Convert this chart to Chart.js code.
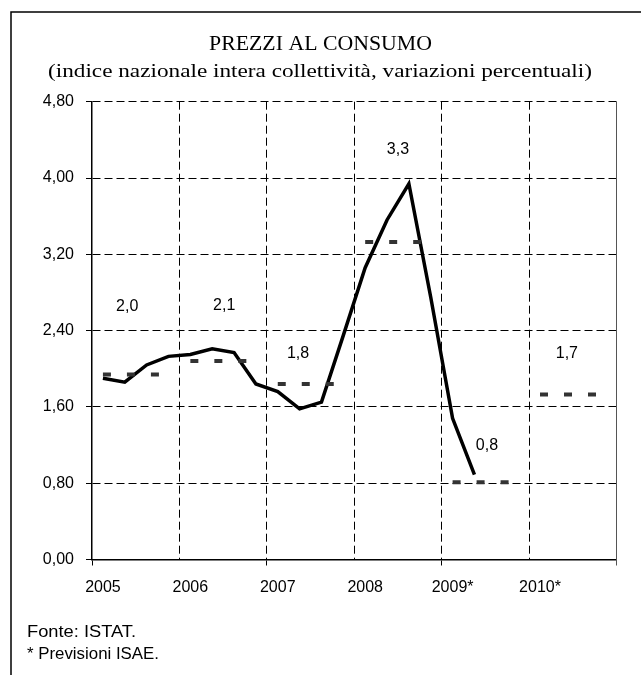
<!DOCTYPE html>
<html>
<head>
<meta charset="utf-8">
<script src="https://cdn.jsdelivr.net/npm/chart.js@4.4.1/dist/chart.umd.min.js"></script>
<style>
  html, body { margin: 0; padding: 0; background: #fff; }
</style>
</head>
<body>
<canvas id="grafico" width="641" height="675"></canvas>
<script>
// anni e trimestri (asse categorie)
const anni = ['2005', '2006', '2007', '2008', '2009*', '2010*'];
const trimestri = ['I', 'II', 'III', 'IV'];

// variazioni tendenziali trimestrali, dato ISTAT fino al II trim. 2009
const variazioniTrim = [1.90, 1.86, 2.04, 2.13, 2.15, 2.21, 2.17, 1.84, 1.76, 1.58, 1.65, 2.35,
                        3.06, 3.56, 3.94, 2.75, 1.48, 0.89];

// media annua (2009 e 2010 previsioni ISAE)
const mediaAnnua = [1.94, 2.08, 1.84, 3.33, 0.81, 1.73];
const etichetteMedia = ['2,0', '2,1', '1,8', '3,3', '0,8', '1,7'];

// tick asse y
const tickY = [0, 0.8, 1.6, 2.4, 3.2, 4.0, 4.8];

const categorie = anni.flatMap(a => trimestri.map(t => a + ' ' + t));

// una serie tratteggiata per ogni anno, cosi i segmenti restano staccati
const serieAnnue = mediaAnnua.map((v, k) => ({
    label: 'media ' + anni[k],
    data: categorie.map((_, i) => Math.floor(i / 4) === k ? v : null),
    borderColor: '#333333',
    borderWidth: 4,
    borderDash: [8, 16],
    borderCapStyle: 'butt',
    pointRadius: 0,
    fill: false,
    order: 0
}));

const serieTrim = {
    label: 'trimestrale',
    data: categorie.map((_, i) => i < variazioniTrim.length ? variazioniTrim[i] : null),
    borderColor: '#000000',
    borderWidth: 3.5,
    borderJoinStyle: 'miter',
    pointRadius: 0,
    tension: 0,
    fill: false,
    order: 1
};

// testo allargato in orizzontale fino alla larghezza voluta
function scritta(ctx, testo, x, y, font, larghezza, allinea) {
    ctx.save();
    ctx.font = font;
    const w = ctx.measureText(testo).width;
    const k = larghezza / w;
    const x0 = allinea === 'left' ? x : x - larghezza / 2;
    ctx.translate(x0, y);
    ctx.scale(k, 1);
    ctx.textAlign = 'left';
    ctx.fillText(testo, 0, 0);
    ctx.restore();
}

// scritte, cornice ed etichette delle medie
const decorazioni = {
    id: 'decorazioni',
    afterDatasetsDraw(chart, args, opts) {
        const ctx = chart.ctx;
        const xs = chart.scales.x, ys = chart.scales.y;
        ctx.save();
        ctx.fillStyle = '#000';
        ctx.font = '16px "Liberation Sans", Arial, sans-serif';
        ctx.textAlign = 'center';
        ctx.textBaseline = 'middle';
        opts.posizioni.forEach((p, k) => {
            ctx.fillText(etichetteMedia[k], xs.getPixelForValue(p[0]), ys.getPixelForValue(p[1]));
        });
        ctx.restore();
    },
    afterDraw(chart) {
        const ctx = chart.ctx;
        const a = chart.chartArea;
        ctx.save();
        // bordo destro dell'area
        ctx.strokeStyle = '#555';
        ctx.lineWidth = 1;
        ctx.beginPath();
        ctx.moveTo(a.right, a.top);
        ctx.lineTo(a.right, a.bottom + 6);
        ctx.stroke();

        // cornice
        ctx.strokeStyle = '#000';
        ctx.lineWidth = 1.5;
        ctx.beginPath();
        ctx.moveTo(11, 675);
        ctx.lineTo(11, 12);
        ctx.lineTo(641, 12);
        ctx.stroke();

        ctx.fillStyle = '#000';
        ctx.textBaseline = 'alphabetic';
        const serif = '"Liberation Serif", "Times New Roman", serif';
        const sans = '"Liberation Sans", Arial, sans-serif';
        scritta(ctx, 'PREZZI AL CONSUMO', 320.5, 50, '22px ' + serif, 223, 'center');
        scritta(ctx, '(indice nazionale intera collettività, variazioni percentuali)', 320, 77, '19px ' + serif, 544, 'center');
        scritta(ctx, 'Fonte: ISTAT.', 27, 637, '16px ' + sans, 109, 'left');
        scritta(ctx, '* Previsioni ISAE.', 27, 659, '16px ' + sans, 132, 'left');
        ctx.restore();
    }
};

new Chart(document.getElementById('grafico'), {
    type: 'line',
    data: {
        labels: categorie,
        datasets: [...serieAnnue, serieTrim]
    },
    options: {
        responsive: false,
        animation: false,
        layout: { padding: { top: 101.7, right: 24.5, bottom: 0, left: 0 } },
        plugins: {
            legend: { display: false },
            tooltip: { enabled: false },
            decorazioni: {
                posizioni: [[1.11, 2.65], [5.55, 2.66], [8.93, 2.16], [13.5, 4.30], [17.57, 1.19], [21.23, 2.16]]
            }
        },
        scales: {
            x: {
                type: 'category',
                offset: true,
                afterFit: s => { s.height = 115.5; },
                grid: {
                    offset: true,
                    lineWidth: 1,
                    color: c => (c.index > 0 && c.index % 4 === 0) ? '#000' : 'transparent',
                    tickLength: 6,
                    tickColor: c => (c.index % 8 === 0) ? '#000' : 'transparent'
                },
                border: { display: true, color: '#000', width: 1.5, dash: [8, 4] },
                ticks: {
                    autoSkip: false,
                    maxRotation: 0,
                    padding: 12,
                    color: '#000',
                    font: { family: '"Liberation Sans", Arial, sans-serif', size: 16 },
                    callback: (v, i) => i % 4 === 0 ? anni[i / 4] : ''
                }
            },
            y: {
                min: 0,
                max: 4.8,
                afterFit: s => { s.width = 92; },
                afterBuildTicks: s => { s.ticks = tickY.map(v => ({ value: v })); },
                grid: {
                    lineWidth: 1,
                    color: c => (c.tick && c.tick.value > 0) ? '#000' : 'transparent',
                    tickLength: 6,
                    tickColor: '#000'
                },
                border: { display: true, color: '#000', width: 1.5, dash: [8, 4] },
                ticks: {
                    padding: 12,
                    color: '#000',
                    font: { family: '"Liberation Sans", Arial, sans-serif', size: 16 },
                    callback: v => v.toFixed(2).replace('.', ',')
                }
            }
        }
    },
    plugins: [decorazioni]
});
</script>
</body>
</html>
